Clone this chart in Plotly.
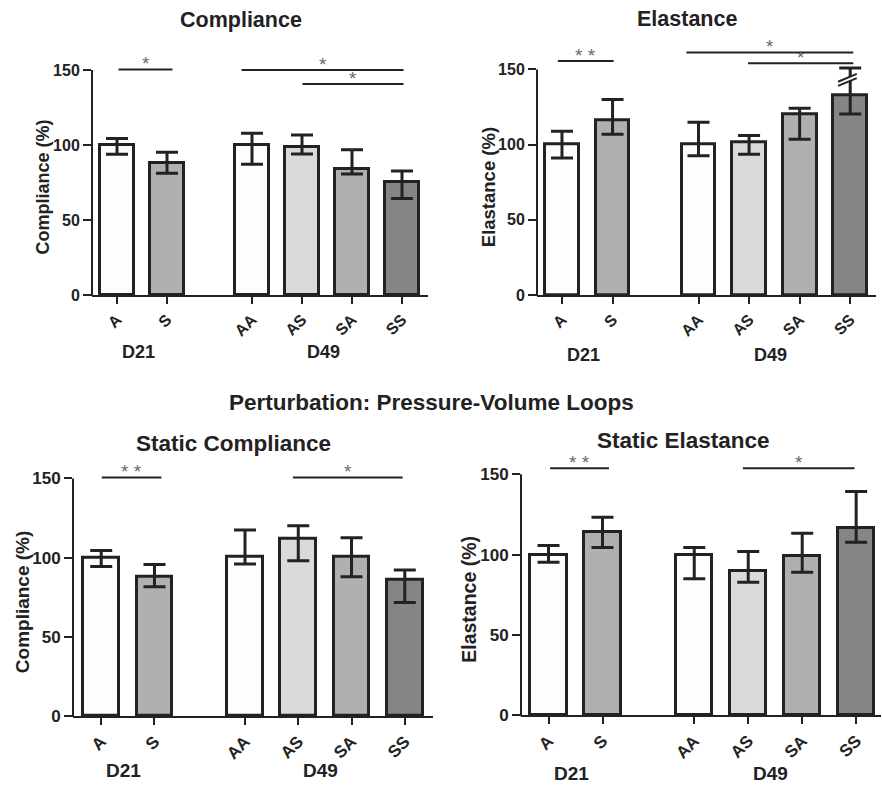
import plotly.graph_objects as go

# ---------------- data ----------------
categories = ["A", "S", "AA", "AS", "SA", "SS"]
positions = [0, 1, 2.7, 3.7, 4.7, 5.7]
group_labels = ["D21", "D49"]
group_members = [["A", "S"], ["AA", "AS", "SA", "SS"]]
bar_colors = ["#fdfdfb", "#b0b0b0", "#fdfdfb", "#dadada", "#b0b0b0", "#858585"]

panel_titles = ["Compliance", "Elastance", "Static Compliance", "Static Elastance"]
y_titles = ["Compliance (%)", "Elastance (%)", "Compliance (%)", "Elastance (%)"]
suptitle = "Perturbation: Pressure-Volume Loops"
y_ticks = [0, 50, 100, 150]

compliance_mean = [100, 88, 100, 98.7, 83.8, 75.6]
compliance_hi = [104.4, 95.1, 107.8, 106.7, 96.9, 82.7]
compliance_lo = [93.8, 81.1, 87.1, 94.0, 80.7, 64.4]

elastance_mean = [100.2, 116.3, 100.0, 101.5, 120.1, 132.5]
elastance_hi = [108.8, 130.0, 114.8, 106.1, 124.1, 151.0]
elastance_lo = [91.1, 106.8, 92.6, 93.5, 103.5, 120.3]

static_compliance_mean = [100.1, 87.9, 100.6, 111.7, 100.6, 85.8]
static_compliance_hi = [104.4, 95.7, 117.4, 120.1, 112.6, 92.2]
static_compliance_lo = [94.3, 81.6, 95.9, 98.0, 87.9, 71.7]

static_elastance_mean = [99.8, 114.3, 99.8, 89.6, 99.2, 116.8]
static_elastance_hi = [105.6, 123.2, 104.4, 101.9, 113.3, 139.2]
static_elastance_lo = [95.2, 104.4, 84.9, 82.8, 89.0, 107.7]

# significance comparisons: (from, to, level, label, start offset, end offset)
compliance_sig = [("A", "S", 150.4, "*", 0.03, 0.11),
                  ("AA", "SS", 150.0, "*", -0.21, 0.03),
                  ("AS", "SS", 140.7, "*", 0.01, 0.03)]
elastance_sig = [("A", "S", 155.5, "* *", -0.08, 0.02),
                 ("AA", "SS", 161.3, "*", -0.24, 0.06),
                 ("AS", "SS", 154.0, "*", -0.02, 0.06)]
static_compliance_sig = [("A", "S", 150.6, "* *", 0.01, 0.13),
                         ("AS", "SS", 150.6, "*", -0.1, -0.04)]
static_elastance_sig = [("A", "S", 153.7, "* *", 0.03, 0.12),
                        ("AS", "SS", 153.7, "*", -0.1, -0.03)]

means = [compliance_mean, elastance_mean, static_compliance_mean, static_elastance_mean]
his = [compliance_hi, elastance_hi, static_compliance_hi, static_elastance_hi]
los = [compliance_lo, elastance_lo, static_compliance_lo, static_elastance_lo]
sigs = [compliance_sig, elastance_sig, static_compliance_sig, static_elastance_sig]

# ---------------- layout geometry (pixels) ----------------
W, H = 882, 787
Y_MAX = 170
panels = [
    dict(x0=92, x1=428, xr=[-0.5, 6.22], yt=40, yb=295, fs=16, tfs=21.5, afs=18,
         title_xy=(241, 20), ytitle_x=42, glab_shift=57),
    dict(x0=537, x1=876, xr=[-0.494, 6.21], yt=39.3, yb=295, fs=16, tfs=21.5, afs=18.5,
         title_xy=(687, 19), ytitle_x=488, glab_shift=60),
    dict(x0=73, x1=433, xr=[-0.53, 6.23], yt=446.7, yb=716, fs=17, tfs=22.5, afs=19,
         title_xy=(233, 443), ytitle_x=22, glab_shift=54),
    dict(x0=521, x1=881, xr=[-0.51, 6.16], yt=442.1, yb=715.3, fs=17, tfs=22.5, afs=19.5,
         title_xy=(683, 440), ytitle_x=469, glab_shift=58),
]

FONT = "Liberation Sans, Arial, sans-serif"
DARK = "#222222"

def px_x(p):
    return p / W

def px_y(p):
    return 1 - p / H

fig = go.Figure()
shapes = []
annotations = []
pos_of = dict(zip(categories, positions))

for k, P in enumerate(panels):
    n = "" if k == 0 else str(k + 1)
    xa, ya = "x" + n, "y" + n
    m, hi, lo = means[k], his[k], los[k]
    fig.add_trace(go.Bar(
        x=positions, y=m, width=0.67,
        marker=dict(color=bar_colors, line=dict(color=DARK, width=3)),
        error_y=dict(type="data", symmetric=False,
                     array=[h - v for h, v in zip(hi, m)],
                     arrayminus=[v - l for v, l in zip(m, lo)],
                     color=DARK, thickness=3, width=11),
        xaxis=xa, yaxis=ya, showlegend=False, cliponaxis=False, hoverinfo="skip",
    ))
    dom_x = [px_x(P["x0"]), px_x(P["x1"])]
    dom_y = [px_y(P["yb"]), px_y(P["yt"])]
    fig.layout["xaxis" + n] = dict(
        domain=dom_x, range=P["xr"], anchor=ya, automargin=False,
        tickvals=positions, ticktext=categories, tickangle=-45,
        ticks="outside", ticklen=7, tickwidth=2, tickcolor=DARK,
        showline=True, linewidth=2, linecolor=DARK, showgrid=False, zeroline=False,
        tickfont=dict(family=FONT, size=P["fs"], color=DARK, weight="bold"),
    )
    fig.layout["yaxis" + n] = dict(
        domain=dom_y, range=[0, Y_MAX], anchor=xa, automargin=False,
        tickvals=y_ticks, ticks="outside", ticklen=8, tickwidth=2, tickcolor=DARK,
        showline=False, showgrid=False, zeroline=False,
        tickfont=dict(family=FONT, size=P["fs"], color=DARK, weight="bold"),
    )
    # y axis line from 0 to 150 (paper coords)
    scale = (P["yb"] - P["yt"]) / Y_MAX
    y150_px = P["yb"] - y_ticks[-1] * scale
    shapes.append(dict(type="line", xref="paper", yref="paper",
                       x0=px_x(P["x0"]), x1=px_x(P["x0"]),
                       y0=px_y(P["yb"] + 1), y1=px_y(y150_px),
                       line=dict(color=DARK, width=2)))
    # significance lines and stars
    for (c0, c1, lvl, lab, o0, o1) in sigs[k]:
        xs, xe = pos_of[c0] + o0, pos_of[c1] + o1
        shapes.append(dict(type="line", xref=xa, yref=ya, x0=xs, x1=xe, y0=lvl, y1=lvl,
                           line=dict(color=DARK, width=2)))
        annotations.append(dict(xref=xa, yref=ya, x=(xs + xe) / 2, y=lvl, text=lab,
                                showarrow=False, yanchor="bottom", yshift=-7,
                                font=dict(family=FONT, size=19, color="#6a6a6a")))
    # panel title
    annotations.append(dict(xref="paper", yref="paper",
                            x=px_x(P["title_xy"][0]), y=px_y(P["title_xy"][1]),
                            text=panel_titles[k], showarrow=False,
                            xanchor="center", yanchor="middle",
                            font=dict(family=FONT, size=P["tfs"], color=DARK, weight="bold")))
    # y axis title
    annotations.append(dict(xref="paper", yref="paper",
                            x=px_x(P["ytitle_x"]), y=px_y((P["yb"] + y150_px) / 2 + 5),
                            text=y_titles[k], showarrow=False, textangle=-90,
                            xanchor="center", yanchor="middle",
                            font=dict(family=FONT, size=P["afs"], color=DARK, weight="bold")))
    # group labels
    for g, members in zip(group_labels, group_members):
        gx = sum(pos_of[c] for c in members) / len(members) - 0.08
        annotations.append(dict(xref=xa, yref=ya + " domain", x=gx, y=0,
                                yshift=-P["glab_shift"], text=g, showarrow=False,
                                xanchor="center", yanchor="middle",
                                font=dict(family=FONT, size=P["fs"] + 2, color=DARK, weight="bold")))

# axis break mark on Elastance SS error bar
ss = pos_of["SS"]
shapes.append(dict(type="path", xref="x2", yref="y2",
                   path=f"M {ss-0.24},{139.0} L {ss+0.13},{144.2} L {ss+0.13},{147.0} L {ss-0.24},{141.8} Z",
                   fillcolor="white", line=dict(width=0)))
for yb_, yt_ in [(139.0, 144.2), (141.8, 147.0)]:
    shapes.append(dict(type="line", xref="x2", yref="y2", x0=ss - 0.24, x1=ss + 0.13,
                       y0=yb_, y1=yt_, line=dict(color=DARK, width=2)))

# suptitle
annotations.append(dict(xref="paper", yref="paper", x=px_x(431), y=px_y(402),
                        text=suptitle, showarrow=False, xanchor="center", yanchor="middle",
                        font=dict(family=FONT, size=22.5, color=DARK, weight="bold")))

fig.update_layout(
    width=W, height=H, margin=dict(l=0, r=0, t=0, b=0, pad=0, autoexpand=False),
    autosize=False,
    paper_bgcolor="white", plot_bgcolor="white",
    shapes=shapes, annotations=annotations,
    font=dict(family=FONT, color=DARK),
    bargap=0, hovermode=False,
)

fig.write_html("out.html",
               config={"displayModeBar": False, "responsive": False},
               post_script="document.body.style.margin='0';document.body.style.overflow='hidden';")
